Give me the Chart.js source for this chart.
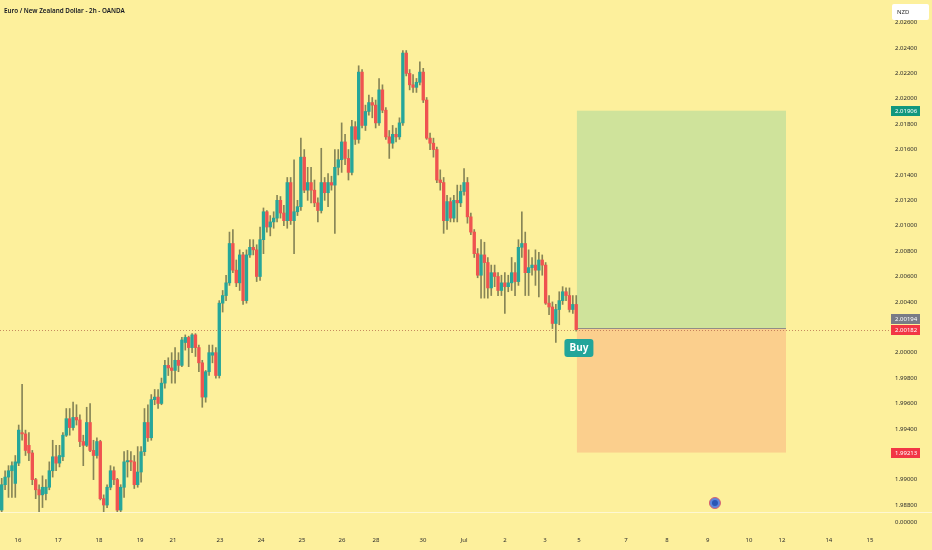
<!DOCTYPE html>
<html>
<head>
<meta charset="utf-8">
<title>EUR/NZD 2h</title>
<script src="https://cdn.jsdelivr.net/npm/chart.js@4.4.1/dist/chart.umd.min.js"></script>
<style>
  html, body { margin: 0; padding: 0; background: #fdf09c; }
  #wrap { width: 932px; height: 550px; position: relative; }
</style>
</head>
<body>
<div id="wrap"><canvas id="chart"></canvas></div>
<script>
// EUR/NZD 2h candles (bar 0 = first visible bar)
const opens = [
  1.9876, 1.9896, 1.9902, 1.9907, 1.9897, 1.9913, 1.9937, 1.9936, 1.9927, 1.9921,
  1.9900, 1.9892, 1.9888, 1.9889, 1.9894, 1.9907, 1.9918, 1.9913, 1.9918, 1.9935,
  1.9948, 1.9941, 1.9949, 1.9947, 1.9930, 1.9927, 1.9945, 1.9923, 1.9919, 1.9930,
  1.9885, 1.9880, 1.9894, 1.9907, 1.9900, 1.9876, 1.9894, 1.9914, 1.9915, 1.9914,
  1.9896, 1.9906, 1.9922, 1.9945, 1.9933, 1.9963, 1.9965, 1.9960, 1.9976, 1.9990,
  1.9988, 1.9986, 1.9994, 1.9990, 2.0008, 2.0012, 2.0004, 2.0014, 2.0004, 1.9992,
  1.9965, 1.9985, 1.9998, 2.0000, 1.9982, 2.0039, 2.0045, 2.0055, 2.0086, 2.0065,
  2.0055, 2.0077, 2.0041, 2.0077, 2.0083, 2.0081, 2.0060, 2.0089, 2.0111, 2.0099,
  2.0103, 2.0106, 2.0120, 2.0110, 2.0104, 2.0134, 2.0104, 2.0111, 2.0115, 2.0154,
  2.0128, 2.0134, 2.0128, 2.0118, 2.0112, 2.0134, 2.0126, 2.0134, 2.0132, 2.0146,
  2.0152, 2.0166, 2.0153, 2.0142, 2.0178, 2.0168, 2.0221, 2.0179, 2.0190, 2.0197,
  2.0195, 2.0181, 2.0207, 2.0191, 2.0170, 2.0165, 2.0172, 2.0170, 2.0181, 2.0236,
  2.0220, 2.0211, 2.0209, 2.0213, 2.0221, 2.0199, 2.0169, 2.0165, 2.0160, 2.0136,
  2.0134, 2.0104, 2.0119, 2.0106, 2.0120, 2.0118, 2.0127, 2.0134, 2.0107, 2.0095,
  2.0078, 2.0061, 2.0077, 2.0071, 2.0051, 2.0063, 2.0060, 2.0049, 2.0055, 2.0052,
  2.0055, 2.0063, 2.0056, 2.0083, 2.0086, 2.0063, 2.0067, 2.0069, 2.0065, 2.0073,
  2.0069, 2.0039, 2.0036, 2.0023, 2.0034, 2.0041, 2.0048, 2.0045, 2.0034, 2.0038
];
const highs = [
  1.9901, 1.9907, 1.9911, 1.9914, 1.9919, 1.9943, 1.9975, 1.9939, 1.9937, 1.9923,
  1.9901, 1.9896, 1.9903, 1.9900, 1.9914, 1.9931, 1.9927, 1.9927, 1.9937, 1.9956,
  1.9956, 1.9961, 1.9959, 1.9951, 1.9935, 1.9957, 1.9960, 1.9931, 1.9933, 1.9931,
  1.9888, 1.9896, 1.9911, 1.9910, 1.9901, 1.9896, 1.9922, 1.9923, 1.9922, 1.9919,
  1.9926, 1.9926, 1.9956, 1.9959, 1.9967, 1.9971, 1.9971, 1.9980, 1.9994, 1.9996,
  2.0000, 2.0004, 2.0000, 2.0012, 2.0014, 2.0013, 2.0015, 2.0015, 2.0006, 1.9994,
  1.9986, 2.0006, 2.0006, 2.0004, 2.0041, 2.0049, 2.0061, 2.0095, 2.0097, 2.0073,
  2.0081, 2.0079, 2.0081, 2.0089, 2.0089, 2.0085, 2.0099, 2.0114, 2.0112, 2.0108,
  2.0111, 2.0124, 2.0123, 2.0116, 2.0138, 2.0138, 2.0152, 2.0120, 2.0169, 2.0160,
  2.0146, 2.0146, 2.0136, 2.0122, 2.0161, 2.0138, 2.0141, 2.0139, 2.0160, 2.0160,
  2.0181, 2.0172, 2.0160, 2.0183, 2.0182, 2.0226, 2.0223, 2.0195, 2.0203, 2.0201,
  2.0199, 2.0216, 2.0211, 2.0193, 2.0175, 2.0179, 2.0177, 2.0185, 2.0238, 2.0238,
  2.0223, 2.0219, 2.0216, 2.0229, 2.0224, 2.0201, 2.0173, 2.0169, 2.0162, 2.0144,
  2.0138, 2.0124, 2.0122, 2.0124, 2.0132, 2.0132, 2.0145, 2.0138, 2.0110, 2.0097,
  2.0082, 2.0089, 2.0087, 2.0075, 2.0069, 2.0069, 2.0063, 2.0061, 2.0063, 2.0061,
  2.0075, 2.0071, 2.0089, 2.0111, 2.0095, 2.0081, 2.0075, 2.0081, 2.0079, 2.0077,
  2.0071, 2.0045, 2.0040, 2.0038, 2.0048, 2.0052, 2.0051, 2.0051, 2.0045, 2.0045
];
const lows = [
  1.9874, 1.9892, 1.9886, 1.9886, 1.9886, 1.9911, 1.9931, 1.9919, 1.9915, 1.9896,
  1.9885, 1.9874, 1.9878, 1.9884, 1.9892, 1.9902, 1.9907, 1.9910, 1.9915, 1.9934,
  1.9935, 1.9939, 1.9943, 1.9926, 1.9911, 1.9926, 1.9922, 1.9900, 1.9917, 1.9884,
  1.9874, 1.9878, 1.9892, 1.9896, 1.9874, 1.9874, 1.9886, 1.9902, 1.9907, 1.9893,
  1.9894, 1.9898, 1.9919, 1.9930, 1.9931, 1.9959, 1.9956, 1.9959, 1.9972, 1.9982,
  1.9976, 1.9976, 1.9985, 1.9989, 2.0002, 1.9989, 2.0000, 1.9997, 1.9985, 1.9957,
  1.9961, 1.9982, 1.9992, 1.9980, 1.9980, 2.0032, 2.0041, 2.0053, 2.0063, 2.0052,
  2.0049, 2.0038, 2.0039, 2.0075, 2.0077, 2.0056, 2.0057, 2.0078, 2.0095, 2.0092,
  2.0098, 2.0103, 2.0106, 2.0100, 2.0098, 2.0101, 2.0078, 2.0108, 2.0112, 2.0126,
  2.0120, 2.0118, 2.0115, 2.0103, 2.0110, 2.0120, 2.0115, 2.0128, 2.0094, 2.0140,
  2.0142, 2.0148, 2.0136, 2.0140, 2.0164, 2.0165, 2.0177, 2.0175, 2.0187, 2.0185,
  2.0177, 2.0179, 2.0189, 2.0168, 2.0153, 2.0161, 2.0166, 2.0168, 2.0179, 2.0218,
  2.0207, 2.0205, 2.0205, 2.0211, 2.0197, 2.0168, 2.0160, 2.0154, 2.0134, 2.0128,
  2.0094, 2.0097, 2.0103, 2.0103, 2.0103, 2.0115, 2.0124, 2.0102, 2.0093, 2.0075,
  2.0059, 2.0043, 2.0043, 2.0043, 2.0045, 2.0052, 2.0045, 2.0045, 2.0031, 2.0048,
  2.0049, 2.0045, 2.0053, 2.0075, 2.0045, 2.0045, 2.0061, 2.0053, 2.0044, 2.0061,
  2.0038, 2.0030, 2.0019, 2.0008, 2.0022, 2.0038, 2.0041, 2.0032, 2.0031, 2.0017
];
const closes = [
  1.9896, 1.9902, 1.9907, 1.9911, 1.9914, 1.9939, 1.9936, 1.9923, 1.9921, 1.9900,
  1.9892, 1.9888, 1.9894, 1.9894, 1.9907, 1.9918, 1.9913, 1.9919, 1.9935, 1.9948,
  1.9941, 1.9949, 1.9947, 1.9930, 1.9927, 1.9945, 1.9923, 1.9919, 1.9930, 1.9885,
  1.9880, 1.9894, 1.9907, 1.9900, 1.9876, 1.9894, 1.9914, 1.9915, 1.9914, 1.9896,
  1.9906, 1.9922, 1.9945, 1.9933, 1.9963, 1.9965, 1.9960, 1.9976, 1.9990, 1.9988,
  1.9986, 1.9994, 1.9990, 2.0010, 2.0012, 2.0004, 2.0014, 2.0004, 1.9992, 1.9965,
  1.9985, 2.0000, 2.0000, 1.9982, 2.0039, 2.0045, 2.0055, 2.0086, 2.0065, 2.0055,
  2.0077, 2.0041, 2.0077, 2.0083, 2.0081, 2.0060, 2.0089, 2.0111, 2.0099, 2.0103,
  2.0106, 2.0120, 2.0110, 2.0104, 2.0134, 2.0104, 2.0111, 2.0115, 2.0154, 2.0128,
  2.0134, 2.0128, 2.0118, 2.0112, 2.0134, 2.0126, 2.0134, 2.0132, 2.0146, 2.0152,
  2.0166, 2.0153, 2.0142, 2.0178, 2.0168, 2.0221, 2.0179, 2.0190, 2.0197, 2.0195,
  2.0181, 2.0207, 2.0191, 2.0170, 2.0165, 2.0172, 2.0170, 2.0181, 2.0236, 2.0220,
  2.0211, 2.0209, 2.0213, 2.0221, 2.0199, 2.0169, 2.0165, 2.0160, 2.0136, 2.0134,
  2.0104, 2.0119, 2.0106, 2.0120, 2.0118, 2.0127, 2.0134, 2.0107, 2.0095, 2.0078,
  2.0061, 2.0077, 2.0071, 2.0051, 2.0063, 2.0060, 2.0049, 2.0055, 2.0052, 2.0055,
  2.0063, 2.0056, 2.0083, 2.0086, 2.0063, 2.0067, 2.0069, 2.0065, 2.0073, 2.0069,
  2.0039, 2.0036, 2.0023, 2.0034, 2.0041, 2.0048, 2.0045, 2.0034, 2.0038, 2.00182
];

// time axis: bar position of each day label
const dayTickIdx = [4.8, 16.6, 28.6, 40.7, 50.4, 64.2, 76.3, 88.3, 100.1, 110.1, 123.9,
                    136.0, 148.0, 159.8, 169.8, 183.6, 195.7, 207.7, 219.8, 229.5, 243.3, 255.4];
const dayTickLabels = ['16', '17', '18', '19', '21', '23', '24', '25', '26', '28', '30',
                       'Jul', '2', '3', '5', '7', '8', '9', '10', '12', '14', '15'];
const priceTicks = [1.988, 1.990, 1.992, 1.994, 1.996, 1.998, 2.000, 2.002, 2.004, 2.006,
                    2.008, 2.010, 2.012, 2.014, 2.016, 2.018, 2.020, 2.022, 2.024, 2.026];

// long position tool
const entryPrice = 2.00194;
const targetPrice = 2.01906;
const stopPrice = 1.99213;
const lastPrice = 2.00182;
const posStart = 169.2;
const posEnd = 230.7;
const eventIdx = 209.8;

const BG = '#fdf09c';
const UP = '#26a69a';
const DOWN = '#ef5350';
const WICK = '#878556';
const TEXT = '#2b2b2b';
const FONT = '"Noto Sans", sans-serif';

const bars = opens.map((_, i) => i);
const bodies = bars.map(i => ({ x: i, y: [opens[i], closes[i]] }));
const wicks = bars.map(i => ({ x: i, y: [lows[i], highs[i]] }));
const candleColor = c => closes[c.dataIndex] >= opens[c.dataIndex] ? UP : DOWN;

function priceTag(ctx, text, yc, fill) {
    ctx.fillStyle = fill;
    ctx.fillRect(891, Math.round(yc - 5), 29, 10);
    ctx.fillStyle = '#ffffff';
    ctx.font = '6px ' + FONT;
    ctx.textAlign = 'left';
    ctx.textBaseline = 'middle';
    ctx.fillText(text, 895, yc + 0.5);
}

const overlay = {
    id: 'overlay',
    beforeDraw(chart) {
        const { ctx, width, height } = chart;
        ctx.save();
        ctx.fillStyle = BG;
        ctx.fillRect(0, 0, width, height);
        ctx.restore();
    },
    beforeDatasetsDraw(chart) {
        const { ctx, chartArea, scales: { x, y } } = chart;
        const x0 = x.getPixelForValue(posStart);
        const x1 = x.getPixelForValue(posEnd);
        const yT = y.getPixelForValue(targetPrice);
        const yE = y.getPixelForValue(entryPrice);
        const yS = y.getPixelForValue(stopPrice);
        const yL = y.getPixelForValue(lastPrice);
        ctx.save();
        ctx.fillStyle = '#cfe39b';
        ctx.fillRect(x0, yT, x1 - x0, yE - yT);
        ctx.fillStyle = '#fbcf8d';
        ctx.fillRect(x0, yE, x1 - x0, yS - yE);
        ctx.strokeStyle = 'rgba(120,123,134,0.8)';
        ctx.lineWidth = 1;
        ctx.beginPath();
        ctx.moveTo(x0, Math.round(yE) + 0.5);
        ctx.lineTo(x1, Math.round(yE) + 0.5);
        ctx.stroke();
        // last price line
        ctx.setLineDash([1, 2]);
        ctx.strokeStyle = 'rgba(175,95,70,0.7)';
        ctx.beginPath();
        ctx.moveTo(chartArea.left, Math.round(yL) + 0.5);
        ctx.lineTo(chartArea.right, Math.round(yL) + 0.5);
        ctx.stroke();
        ctx.restore();
    },
    afterDatasetsDraw(chart) {
        const { ctx, chartArea, scales: { x, y } } = chart;
        ctx.save();
        // Buy label under the entry
        const bx = x.getPixelForValue(posStart) + 2;
        const by = y.getPixelForValue(entryPrice) + 11;
        ctx.fillStyle = '#22a59a';
        ctx.beginPath();
        ctx.roundRect(bx - 14.5, by, 29, 18, 3);
        ctx.fill();
        ctx.fillStyle = '#ffffff';
        ctx.font = 'bold 10px ' + FONT;
        ctx.textAlign = 'center';
        ctx.textBaseline = 'middle';
        ctx.fillText('Buy', bx, by + 9.5);
        // event marker
        const ex = x.getPixelForValue(eventIdx);
        const ey = chartArea.bottom - 9;
        ctx.beginPath();
        ctx.arc(ex, ey, 5.5, 0, Math.PI * 2);
        ctx.fillStyle = '#5b86dc';
        ctx.fill();
        ctx.strokeStyle = '#d9606e';
        ctx.lineWidth = 1;
        ctx.stroke();
        ctx.beginPath();
        ctx.arc(ex, ey, 3, 0, Math.PI * 2);
        ctx.fillStyle = '#2a55b5';
        ctx.fill();
        ctx.restore();
    },
    afterDraw(chart) {
        const { ctx, chartArea, scales: { y } } = chart;
        ctx.save();
        // pane separator and lower pane value
        ctx.strokeStyle = 'rgba(255,255,255,0.55)';
        ctx.lineWidth = 1;
        ctx.beginPath();
        ctx.moveTo(0, chartArea.bottom + 0.5);
        ctx.lineTo(chart.width, chartArea.bottom + 0.5);
        ctx.stroke();
        ctx.fillStyle = TEXT;
        ctx.font = '6px ' + FONT;
        ctx.textAlign = 'left';
        ctx.textBaseline = 'middle';
        ctx.fillText('0.00000', 895, chartArea.bottom + 10);
        // title
        ctx.fillStyle = '#131722';
        ctx.font = '600 6.3px ' + FONT;
        ctx.fillText('Euro / New Zealand Dollar - 2h - OANDA', 4, 11);
        // currency box
        ctx.fillStyle = '#ffffff';
        ctx.beginPath();
        ctx.roundRect(892, 4, 37, 16, 2);
        ctx.fill();
        ctx.fillStyle = TEXT;
        ctx.font = '6px ' + FONT;
        ctx.fillText('NZD', 897, 12);
        // price tags
        const yLast = y.getPixelForValue(lastPrice);
        const yEntry = Math.min(y.getPixelForValue(entryPrice), yLast - 11);
        priceTag(ctx, targetPrice.toFixed(5), y.getPixelForValue(targetPrice), '#10977e');
        priceTag(ctx, entryPrice.toFixed(5), yEntry, '#787b86');
        priceTag(ctx, lastPrice.toFixed(5), yLast, '#f23645');
        priceTag(ctx, stopPrice.toFixed(5), y.getPixelForValue(stopPrice), '#f23645');
        ctx.restore();
    }
};

new Chart(document.getElementById('chart'), {
    type: 'bar',
    data: {
        datasets: [
            {
                data: wicks,
                backgroundColor: WICK,
                barThickness: 1,
                grouped: false,
                order: 2
            },
            {
                data: bodies,
                backgroundColor: candleColor,
                barThickness: 2.7,
                minBarLength: 1,
                grouped: false,
                order: 1
            }
        ]
    },
    options: {
        responsive: true,
        maintainAspectRatio: false,
        animation: false,
        devicePixelRatio: 1,
        layout: { padding: 0 },
        plugins: {
            legend: { display: false },
            tooltip: { enabled: false }
        },
        scales: {
            x: {
                type: 'linear',
                offset: false,
                min: -0.5,
                max: 261,
                grid: { display: false, drawTicks: false },
                border: { display: false },
                afterBuildTicks: scale => { scale.ticks = dayTickIdx.map(v => ({ value: v })); },
                afterFit: scale => {
                    scale.height = 38;
                    scale.paddingLeft = 0;
                    scale.paddingRight = 0;
                },
                ticks: {
                    autoSkip: false,
                    maxRotation: 0,
                    padding: 25,
                    color: TEXT,
                    font: { family: FONT, size: 6 },
                    callback: v => {
                        const k = dayTickIdx.indexOf(v);
                        return k >= 0 ? dayTickLabels[k] : '';
                    }
                }
            },
            y: {
                position: 'right',
                min: 1.98745,
                max: 2.02778,
                grid: { display: false, drawTicks: false },
                border: { display: false },
                afterBuildTicks: scale => { scale.ticks = priceTicks.map(v => ({ value: v })); },
                afterFit: scale => {
                    scale.width = 43;
                    scale.paddingTop = 0;
                    scale.paddingBottom = 0;
                },
                ticks: {
                    padding: 6,
                    color: TEXT,
                    font: { family: FONT, size: 6 },
                    callback: v => v.toFixed(5)
                }
            }
        }
    },
    plugins: [overlay]
});
</script>
</body>
</html>
